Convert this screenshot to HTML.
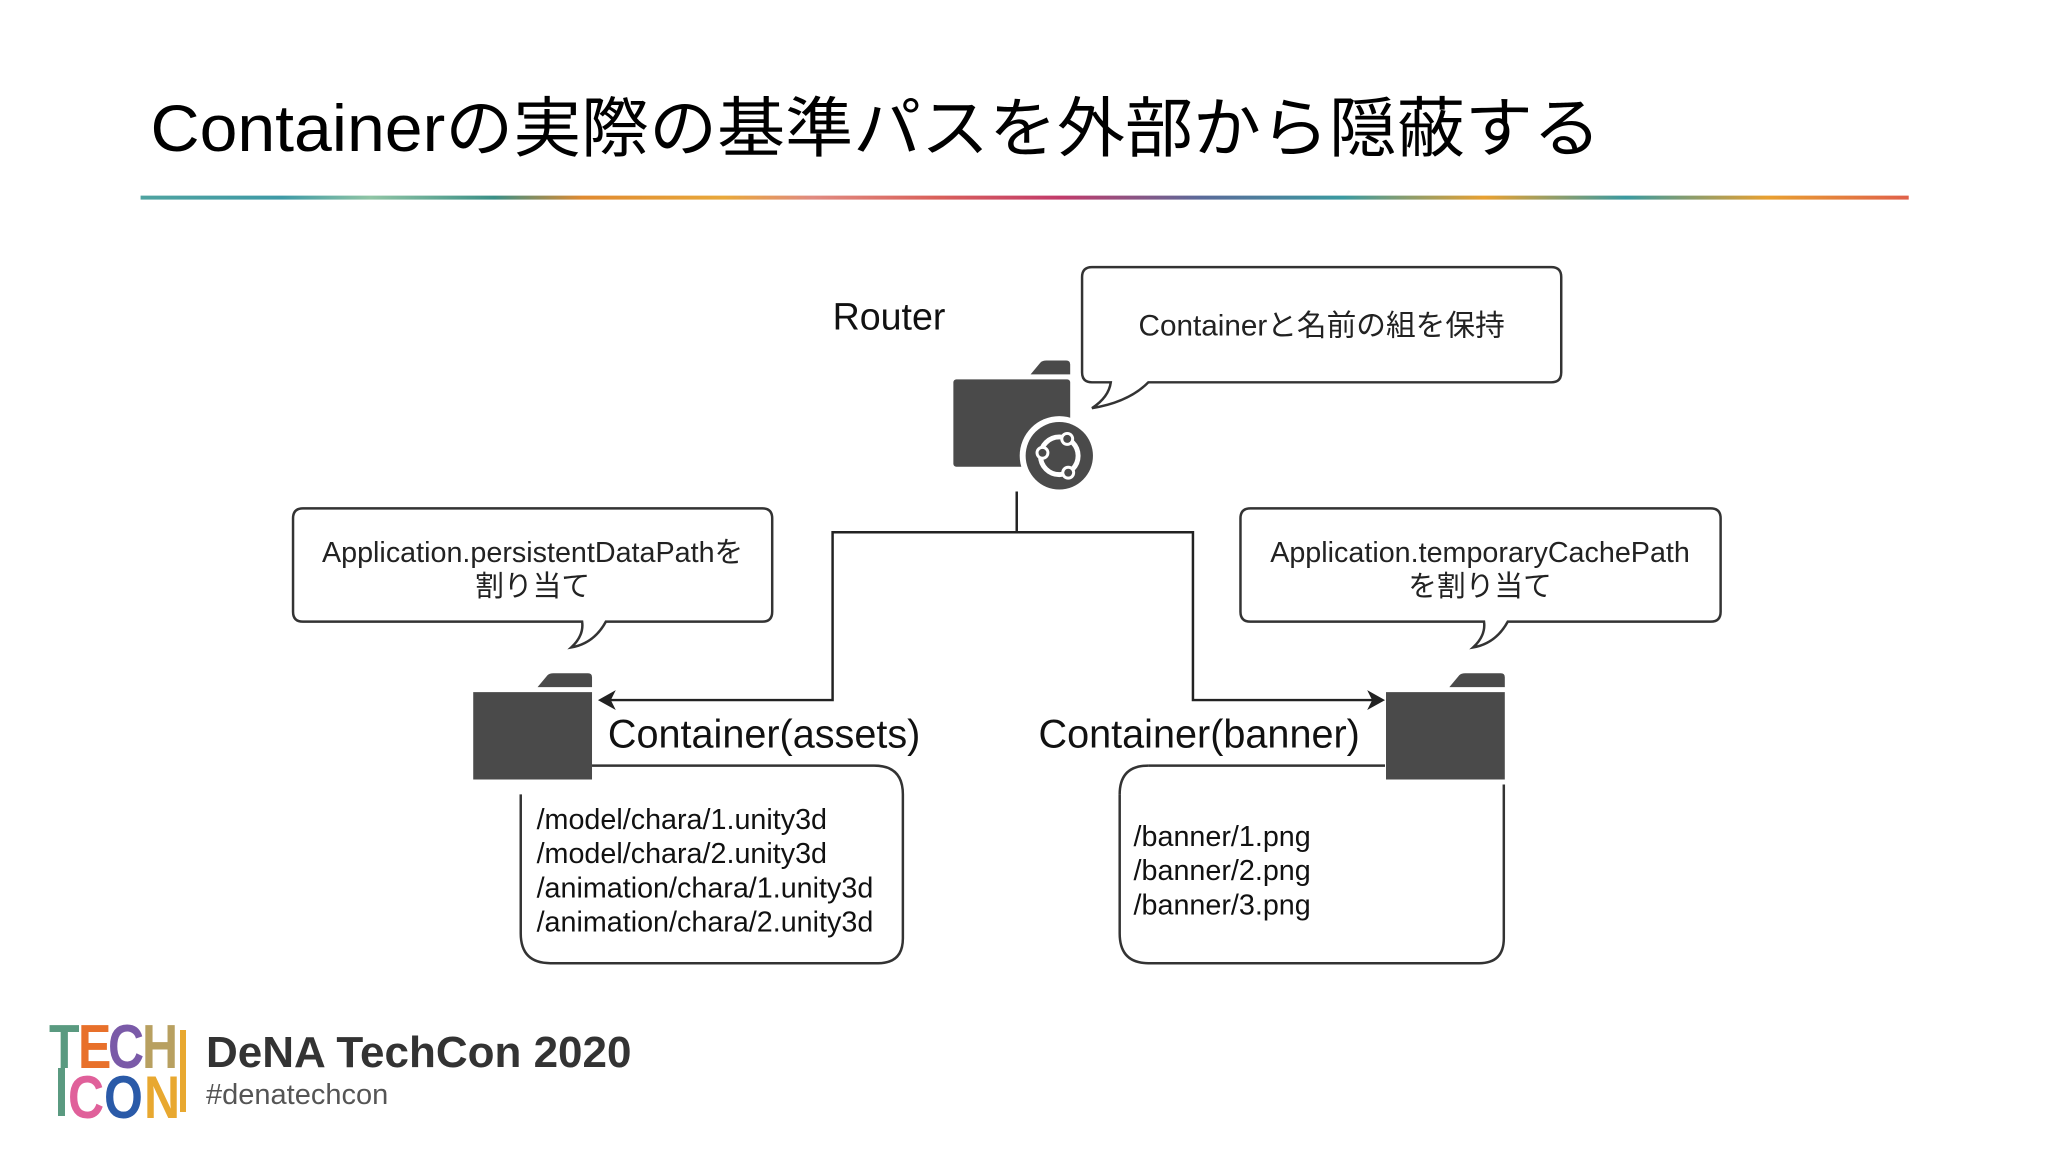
<!DOCTYPE html>
<html><head><meta charset="utf-8"><style>
html,body{margin:0;padding:0;background:#fff;}
svg{display:block;}
</style></head><body>
<svg width="2048" height="1152" viewBox="0 0 2048 1152" xmlns="http://www.w3.org/2000/svg">
<defs>
<linearGradient id="rb" x1="0" x2="1" y1="0" y2="0">
<stop offset="0" stop-color="#4fa3a0"/><stop offset="0.08" stop-color="#3e9aa6"/>
<stop offset="0.13" stop-color="#8fc4a4"/><stop offset="0.2" stop-color="#3a8f86"/>
<stop offset="0.25" stop-color="#e08a30"/><stop offset="0.33" stop-color="#e8a83a"/>
<stop offset="0.38" stop-color="#e08a80"/><stop offset="0.45" stop-color="#d9605a"/>
<stop offset="0.52" stop-color="#c23a6a"/><stop offset="0.6" stop-color="#5a6a9a"/>
<stop offset="0.68" stop-color="#3a9aa0"/><stop offset="0.76" stop-color="#e8a030"/>
<stop offset="0.84" stop-color="#3a9aa0"/><stop offset="0.92" stop-color="#e8a030"/>
<stop offset="1" stop-color="#e0604a"/>
</linearGradient>
</defs>
<g transform="scale(0.99,0.993)">
<text x="152" y="152" font-family="Liberation Sans, Noto Sans CJK JP, sans-serif" font-size="66" fill="#000" textLength="1465" lengthAdjust="spacingAndGlyphs">Containerの実際の基準パスを外部から隠蔽する</text>
<rect x="142" y="197" width="1786" height="4" fill="url(#rb)"/>

<g font-family="Liberation Sans, Noto Sans CJK JP, sans-serif" fill="#111">
<text x="841" y="332" font-size="38">Router</text>
</g>

<path d="M1108,269 H1567 Q1577,269 1577,279 V375 Q1577,385 1567,385 H1160 Q1140,405 1103,411 Q1120,400 1122,385 H1103 Q1093,385 1093,375 V279 Q1093,269 1103,269 Z" fill="#fff" stroke="#333" stroke-width="2.5"/>
<text x="1335" y="338" text-anchor="middle" font-family="Liberation Sans, Noto Sans CJK JP, sans-serif" font-size="30" fill="#222">Containerと名前の組を保持</text>

<g fill="#4a4a4a" transform="translate(11,0)">
<path d="M1030,377 L1040,365 Q1042,363 1046,363 H1066 Q1070,363 1070,367 V377 Z"/>
<rect x="952" y="382" width="118" height="88" rx="3"/>
<circle cx="1059" cy="459" r="40" fill="#fff"/>
<circle cx="1059" cy="459" r="34"/>
<circle cx="1059" cy="459" r="19" fill="none" stroke="#fff" stroke-width="5"/>
<circle cx="1042" cy="456" r="7" fill="#fff"/><circle cx="1067" cy="442" r="7" fill="#fff"/><circle cx="1068" cy="476" r="7" fill="#fff"/>
<circle cx="1042" cy="456" r="4"/><circle cx="1067" cy="442" r="4"/><circle cx="1068" cy="476" r="4"/>
</g>

<g fill="none" stroke="#222" stroke-width="2.5">
<path d="M1027,495 V536 H841 V705 H611"/>
<path d="M1027,536 H1205 V705 H1390"/>
</g>
<path d="M604,705 L622,695 L617,705 L622,715 Z" fill="#222"/>
<path d="M1399,705 L1381,695 L1386,705 L1381,715 Z" fill="#222"/>

<path d="M306,512 H770 Q780,512 780,522 V616 Q780,626 770,626 H612 Q600,648 577,652 Q590,640 588,626 H306 Q296,626 296,616 V522 Q296,512 306,512 Z" fill="#fff" stroke="#333" stroke-width="2.5"/>
<g font-family="Liberation Sans, Noto Sans CJK JP, sans-serif" font-size="29" fill="#222" text-anchor="middle">
<text x="538" y="566">Application.persistentDataPathを</text>
<text x="538" y="600">割り当て</text>
</g>
<path d="M1263,512 H1728 Q1738,512 1738,522 V616 Q1738,626 1728,626 H1523 Q1511,648 1488,652 Q1501,640 1499,626 H1263 Q1253,626 1253,616 V522 Q1253,512 1263,512 Z" fill="#fff" stroke="#333" stroke-width="2.5"/>
<g font-family="Liberation Sans, Noto Sans CJK JP, sans-serif" font-size="29" fill="#222" text-anchor="middle">
<text x="1495" y="566">Application.temporaryCachePath</text>
<text x="1495" y="600">を割り当て</text>
</g>

<path d="M526,800 V940 Q526,970 556,970 H887 Q912,970 912,945 V800 Q912,771 883,771 H598" fill="#fff" stroke="#333" stroke-width="2.5"/>
<path d="M1131,800 V940 Q1131,970 1160,970 H1494 Q1519,970 1519,945 V790" fill="#fff" stroke="#333" stroke-width="2.5"/>
<path d="M1160,771 Q1131,771 1131,800" fill="none" stroke="#333" stroke-width="2.5"/>
<path d="M1160,771 H1399" stroke="#333" stroke-width="2.5"/>

<g fill="#4a4a4a">
<path d="M543,692 L553,680 Q555,678 559,678 H594 Q598,678 598,682 V692 Z"/>
<rect x="478" y="697" width="120" height="88"/>
<path d="M1464,692 L1474,680 Q1476,678 1480,678 H1516 Q1520,678 1520,682 V692 Z"/>
<rect x="1400" y="697" width="120" height="88"/>
</g>

<g font-family="Liberation Sans, Noto Sans CJK JP, sans-serif" fill="#111">
<text x="614" y="753" font-size="40">Container(assets)</text>
<text x="1049" y="753" font-size="40">Container(banner)</text>
<g font-size="29">
<text x="542" y="835">/model/chara/1.unity3d</text>
<text x="542" y="869">/model/chara/2.unity3d</text>
<text x="542" y="904">/animation/chara/1.unity3d</text>
<text x="542" y="938">/animation/chara/2.unity3d</text>
<text x="1145" y="852">/banner/1.png</text>
<text x="1145" y="886">/banner/2.png</text>
<text x="1145" y="921">/banner/3.png</text>
</g>
</g>
</g>

<g font-family="Liberation Sans, sans-serif" font-weight="bold" font-size="50">
<g transform="translate(0,1068) scale(1,1.25)">
<text x="49" y="0" fill="#5a9a80">T</text>
<text x="78" y="0" fill="#e8702a">E</text>
<text x="108" y="0" fill="#7a5aa8">C</text>
<text x="142" y="0" fill="#b8a060">H</text>
</g>
<g transform="translate(0,1118) scale(1,1.2)">
<text x="68" y="0" fill="#e0609a">C</text>
<text x="104" y="0" fill="#2a5aa8">O</text>
<text x="144" y="0" fill="#e8a830">N</text>
</g>
</g>
<rect x="58" y="1068" width="7" height="48" fill="#5a9a80"/>
<rect x="180" y="1030" width="6" height="82" fill="#e8a830"/>
<text x="206" y="1067" font-family="Liberation Sans, sans-serif" font-weight="bold" font-size="44" fill="#333">DeNA TechCon 2020</text>
<text x="206" y="1104" font-family="Liberation Sans, sans-serif" font-size="29" fill="#555">#denatechcon</text>
</svg>
</body></html>
